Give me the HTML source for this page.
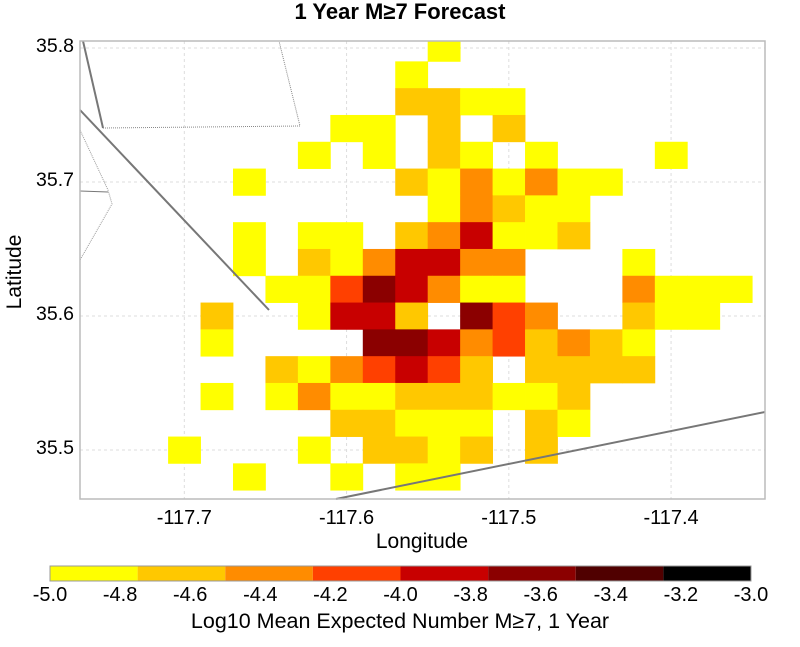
<!DOCTYPE html>
<html><head><meta charset="utf-8"><style>
html,body{margin:0;padding:0;background:#fff;}
svg{display:block;font-family:"Liberation Sans",sans-serif;}
</style></head><body>
<svg id="chart" width="800" height="647" viewBox="0 0 800 647">
<text x="400" y="19" text-anchor="middle" font-size="22" font-weight="bold">1 Year M≥7 Forecast</text>
<g id="grid"></g>
<g id="cells"></g>
<g id="faults">
<polyline points="83,41 103,128" fill="none" stroke="#777" stroke-width="2"/>
<polyline points="103,128 300,126 279,41" fill="none" stroke="#888" stroke-width="1" stroke-dasharray="1,1"/>
<polyline points="80,110 269,310" fill="none" stroke="#777" stroke-width="2"/>
<polyline points="336,499 765,412" fill="none" stroke="#777" stroke-width="2"/>
<polyline points="80,130 108,190 112,204 80,260" fill="none" stroke="#999" stroke-width="1" stroke-dasharray="1,1"/>
<polyline points="80,191 108,192" fill="none" stroke="#777" stroke-width="1"/>
</g>
<rect x="80" y="41" width="685" height="458" fill="none" stroke="#bbb" stroke-width="1.5"/>
<g id="axes"></g>
<text x="422" y="548" text-anchor="middle" font-size="21">Longitude</text>
<text x="0" y="0" transform="translate(21,272) rotate(-90)" text-anchor="middle" font-size="21">Latitude</text>
<g id="colorbar"></g>
<text x="400" y="628" text-anchor="middle" font-size="21.5">Log10 Mean Expected Number M≥7, 1 Year</text>
</svg>
<script>
const xTicks=[-117.7,-117.6,-117.5,-117.4];
const yTicks=[35.5,35.6,35.7,35.8];
const cbTicks=[-5.0,-4.8,-4.6,-4.4,-4.2,-4.0,-3.8,-3.6,-3.4,-3.2,-3.0];
const cbBounds=[-5.0,-4.75,-4.5,-4.25,-4.0,-3.75,-3.5,-3.25,-3.0];
const cbColors=["#ffff00","#ffc800","#ff8c00","#ff4000","#c80000","#8b0000","#500000","#000000"];
// grid cells: [row, col, value]; lon center=-117.76+0.02*col, lat center=35.80-0.02*row
const cellRows=[0,1,2,2,2,2,3,3,3,3,4,4,4,4,4,4,5,5,5,5,5,5,5,5,6,6,6,6,6,7,7,7,7,7,7,7,7,7,8,8,8,8,8,8,8,8,8,9,9,9,9,9,9,9,9,9,9,9,9,10,10,10,10,10,10,10,10,10,10,10,11,11,11,11,11,11,11,11,11,11,12,12,12,12,12,12,12,12,12,12,12,13,13,13,13,13,13,13,13,13,13,13,14,14,14,14,14,14,14,15,15,15,15,15,15,15,16,16,16,16];
const cellCols=[11,10,10,11,12,13,8,9,11,13,7,9,11,12,14,18,5,10,11,12,13,14,15,16,11,12,13,14,15,5,7,8,10,11,12,13,14,15,5,7,8,9,10,11,12,13,17,6,7,8,9,10,11,12,13,17,18,19,20,4,7,8,9,10,12,13,14,17,18,19,4,9,10,11,12,13,14,15,16,17,6,7,8,9,10,11,12,14,15,16,17,4,6,7,8,9,10,11,12,13,14,15,8,9,10,11,12,14,15,3,7,9,10,11,12,14,5,8,10,11];
const cellVals=[-4.9,-4.9,-4.6,-4.6,-4.9,-4.9,-4.9,-4.9,-4.6,-4.6,-4.9,-4.9,-4.6,-4.9,-4.9,-4.9,-4.9,-4.6,-4.9,-4.4,-4.9,-4.4,-4.9,-4.9,-4.9,-4.4,-4.6,-4.9,-4.9,-4.9,-4.9,-4.9,-4.6,-4.4,-3.9,-4.9,-4.9,-4.6,-4.9,-4.6,-4.9,-4.4,-3.9,-3.9,-4.4,-4.4,-4.9,-4.9,-4.9,-4.1,-3.7,-3.9,-4.4,-4.9,-4.9,-4.4,-4.9,-4.9,-4.9,-4.6,-4.9,-3.9,-3.9,-4.6,-3.7,-4.1,-4.4,-4.6,-4.9,-4.9,-4.9,-3.7,-3.7,-3.9,-4.4,-4.1,-4.6,-4.4,-4.6,-4.9,-4.6,-4.9,-4.4,-4.1,-3.9,-4.1,-4.6,-4.6,-4.6,-4.6,-4.6,-4.9,-4.9,-4.4,-4.9,-4.9,-4.6,-4.6,-4.6,-4.9,-4.9,-4.6,-4.6,-4.6,-4.9,-4.9,-4.9,-4.6,-4.9,-4.9,-4.9,-4.6,-4.6,-4.9,-4.6,-4.6,-4.9,-4.9,-4.9,-4.9];

const NS="http://www.w3.org/2000/svg";
const L=80,R=765,T=41,B=499;
const lonMin=-117.7643,lonMax=-117.3421,latMin=35.4634,latMax=35.8052;
function sx(lon){return L+(lon-lonMin)/(lonMax-lonMin)*(R-L);}
function sy(lat){return T+(latMax-lat)/(latMax-latMin)*(B-T);}
const cbL=50,cbR=751;
function cx(v){return cbL+(v+5)/2*(cbR-cbL);}
function colorOf(v){for(let i=0;i<cbColors.length;i++){if(v<cbBounds[i+1])return cbColors[i];}return cbColors[cbColors.length-1];}
function mk(tag,attrs,parent){const e=document.createElementNS(NS,tag);for(const k in attrs)e.setAttribute(k,attrs[k]);parent.appendChild(e);return e;}

const grid=document.getElementById('grid');
const axes=document.getElementById('axes');
xTicks.forEach(t=>{
  const g=mk('line',{x1:sx(t),x2:sx(t),y1:T,y2:B,stroke:'#ddd','stroke-dasharray':'3,3'},grid);
  
  
  const tx=mk('text',{x:sx(t),y:524,'text-anchor':'middle','font-size':'20'},axes);
  tx.textContent=t.toFixed(1);
  
  
});
yTicks.forEach(t=>{
  const g=mk('line',{x1:L,x2:R,y1:sy(t),y2:sy(t),stroke:'#ddd','stroke-dasharray':'3,3'},grid);
  
  
  const tx=mk('text',{x:74,y:sy(t)+4,'text-anchor':'end','font-size':'19.5'},axes);
  tx.textContent=t.toFixed(1);
  
  
});

const cells=document.getElementById('cells');
const clip=mk('clipPath',{id:'pc'},mk('defs',{},document.getElementById('chart')));
mk('rect',{x:L,y:T,width:R-L,height:B-T},clip);
cells.setAttribute('clip-path','url(#pc)');
for(let i=0;i<cellVals.length;i++){
  const lon=-117.76+0.02*cellCols[i], lat=35.80-0.02*cellRows[i];
  const x0=sx(lon-0.01),x1=sx(lon+0.01),y0=sy(lat+0.01),y1=sy(lat-0.01);
  const r=mk('rect',{x:x0,y:y0,width:x1-x0+0.4,height:y1-y0+0.4,fill:colorOf(cellVals[i])},cells);
  
  
}

const cb=document.getElementById('colorbar');
for(let i=0;i<cbColors.length;i++){
  const r=mk('rect',{x:cx(cbBounds[i]),y:566,width:cx(cbBounds[i+1])-cx(cbBounds[i]),height:15,fill:cbColors[i]},cb);
  
  
}
const fr=mk('rect',{x:cbL,y:566,width:cbR-cbL,height:15,fill:'none',stroke:'#999'},cb);


cbTicks.forEach(t=>{
  const tx=mk('text',{x:cx(t),y:601,'text-anchor':'middle','font-size':'20'},cb);
  tx.textContent=t.toFixed(1);
  
  
});
</script>
</body></html>
